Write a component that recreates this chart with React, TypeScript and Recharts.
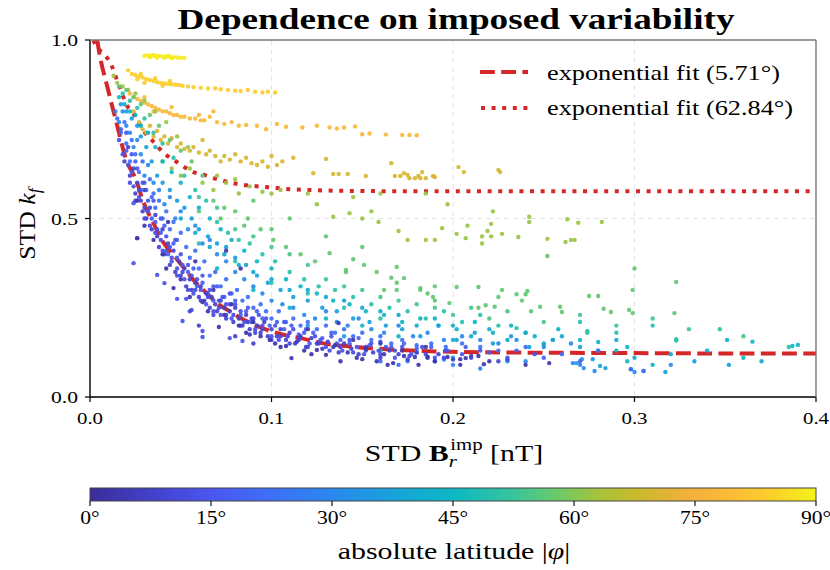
import React from 'react';
import { ComposedChart, Scatter, Line, XAxis, YAxis, CartesianGrid } from 'recharts';

const xTicks = [0, 0.1, 0.2, 0.3, 0.4];
const yTicks = [0, 0.5, 1.0];
const latTicks = [0, 15, 30, 45, 60, 75, 90];
const legendLabels = ['exponential fit (5.71°)', 'exponential fit (62.84°)'];

const colorStops: [number, string][] = [
  [0, '#3b2c9b'], [10, '#4547d9'], [15, '#4a56ef'], [22, '#3f6ef7'], [30, '#2a88ef'],
  [38, '#17a3da'], [45, '#0cb8c3'], [52, '#35c49f'], [58, '#6cc968'], [63, '#a6c33c'],
  [68, '#cbb92c'], [74, '#f0b03c'], [80, '#fdbd36'], [85, '#fad22a'], [90, '#f5f31a'],
];

// fitted curves [x, y]
const dashedFit: number[][] = [
  [0.004, 1.0], [0.0046, 0.98], [0.01, 0.86], [0.015, 0.76], [0.0195, 0.672], [0.026, 0.6],
  [0.029, 0.552], [0.035, 0.487], [0.04, 0.436], [0.046, 0.398], [0.052, 0.36], [0.057, 0.328],
  [0.064, 0.292], [0.07, 0.263], [0.077, 0.24], [0.083, 0.221], [0.0975, 0.188], [0.106, 0.175],
  [0.116, 0.165], [0.128, 0.151], [0.147, 0.14], [0.169, 0.132], [0.206, 0.126], [0.25, 0.124],
  [0.3, 0.123], [0.35, 0.122], [0.4, 0.122],
];
const dottedFit: number[][] = [
  [0.002, 1.0], [0.003, 0.986], [0.0083, 0.958], [0.012, 0.927], [0.0138, 0.902], [0.016, 0.874],
  [0.0202, 0.818], [0.0237, 0.796], [0.027, 0.767], [0.03, 0.742], [0.034, 0.72], [0.038, 0.697],
  [0.042, 0.678], [0.047, 0.661], [0.052, 0.644], [0.057, 0.63], [0.063, 0.622], [0.068, 0.613],
  [0.074, 0.605], [0.079, 0.599], [0.085, 0.594], [0.097, 0.588], [0.108, 0.583], [0.12, 0.58],
  [0.149, 0.577], [0.2, 0.576], [0.3, 0.576], [0.4, 0.576],
];

// scatter points by absolute latitude band [x, y]
const band89: number[][] = [
  [0.03, 0.955], [0.032, 0.957], [0.034, 0.956], [0.036, 0.955], [0.038, 0.955], [0.04, 0.954],
  [0.042, 0.953], [0.044, 0.953], [0.046, 0.952], [0.048, 0.951], [0.05, 0.95], [0.052, 0.95],
  [0.033, 0.952], [0.037, 0.951], [0.041, 0.95], [0.045, 0.949], [0.035, 0.958], [0.043, 0.956],
];
const band84: number[][] = [
  [0.021, 0.915], [0.023, 0.905], [0.025, 0.902], [0.027, 0.898], [0.029, 0.895], [0.031, 0.89],
  [0.033, 0.888], [0.035, 0.885], [0.037, 0.882], [0.039, 0.88], [0.041, 0.878], [0.043, 0.877],
  [0.045, 0.876], [0.047, 0.875], [0.049, 0.874], [0.051, 0.872], [0.054, 0.87], [0.057, 0.868],
  [0.061, 0.866], [0.065, 0.864], [0.069, 0.865], [0.072, 0.862], [0.076, 0.86], [0.08, 0.858],
  [0.083, 0.857], [0.087, 0.86], [0.091, 0.855], [0.095, 0.853], [0.098, 0.855], [0.102, 0.853],
  [0.028, 0.905], [0.036, 0.893], [0.044, 0.885], [0.03, 0.88], [0.04, 0.872], [0.026, 0.89],
];
const band78: number[][] = [
  [0.022, 0.85], [0.024, 0.84], [0.026, 0.835], [0.028, 0.83], [0.03, 0.825], [0.032, 0.82],
  [0.034, 0.815], [0.036, 0.81], [0.038, 0.805], [0.04, 0.8], [0.042, 0.8], [0.044, 0.795],
  [0.046, 0.79], [0.048, 0.79], [0.05, 0.785], [0.052, 0.785], [0.055, 0.78], [0.058, 0.78],
  [0.061, 0.775], [0.063, 0.775], [0.066, 0.785], [0.07, 0.77], [0.074, 0.765], [0.078, 0.77],
  [0.082, 0.76], [0.086, 0.762], [0.092, 0.76], [0.097, 0.75], [0.103, 0.765], [0.108, 0.757],
  [0.117, 0.755], [0.125, 0.76], [0.132, 0.755], [0.136, 0.752], [0.14, 0.755], [0.146, 0.758],
  [0.15, 0.736], [0.154, 0.738], [0.163, 0.735], [0.172, 0.734], [0.176, 0.734], [0.18, 0.733],
  [0.03, 0.84], [0.045, 0.812], [0.06, 0.79], [0.035, 0.8], [0.068, 0.8],
];
const band70: number[][] = [
  [0.024, 0.8], [0.027, 0.77], [0.029, 0.75], [0.031, 0.74], [0.033, 0.76], [0.035, 0.73],
  [0.037, 0.745], [0.039, 0.72], [0.041, 0.73], [0.043, 0.71], [0.045, 0.725], [0.048, 0.7],
  [0.05, 0.71], [0.052, 0.695], [0.055, 0.69], [0.057, 0.7], [0.06, 0.685], [0.062, 0.72],
  [0.064, 0.68], [0.066, 0.69], [0.069, 0.675], [0.072, 0.66], [0.074, 0.675], [0.077, 0.665],
  [0.08, 0.68], [0.083, 0.66], [0.086, 0.67], [0.089, 0.655], [0.092, 0.65], [0.095, 0.66],
  [0.098, 0.645], [0.1, 0.675], [0.103, 0.65], [0.106, 0.66], [0.112, 0.67], [0.123, 0.627],
  [0.13, 0.667], [0.134, 0.625], [0.137, 0.625], [0.142, 0.625], [0.152, 0.619], [0.166, 0.655],
  [0.168, 0.619], [0.171, 0.619], [0.173, 0.627], [0.175, 0.622], [0.176, 0.613], [0.179, 0.613],
  [0.181, 0.619], [0.182, 0.613], [0.183, 0.63], [0.185, 0.613], [0.189, 0.619], [0.19, 0.616],
  [0.203, 0.644], [0.206, 0.63], [0.225, 0.636], [0.226, 0.63],
];
const band62: number[][] = [
  [0.013, 0.9], [0.015, 0.88], [0.018, 0.87], [0.021, 0.86], [0.025, 0.85], [0.03, 0.83],
  [0.036, 0.8], [0.042, 0.77], [0.048, 0.73], [0.054, 0.7], [0.04, 0.66], [0.045, 0.64],
  [0.05, 0.62], [0.055, 0.64], [0.062, 0.6], [0.068, 0.58], [0.075, 0.6], [0.082, 0.57],
  [0.088, 0.59], [0.095, 0.575], [0.1, 0.57], [0.105, 0.58], [0.07, 0.62], [0.08, 0.61],
  [0.134, 0.505], [0.143, 0.515], [0.15, 0.5], [0.159, 0.49], [0.17, 0.465], [0.175, 0.44],
  [0.185, 0.44], [0.19, 0.44], [0.194, 0.473], [0.197, 0.54], [0.202, 0.457], [0.207, 0.445],
  [0.208, 0.48], [0.216, 0.45], [0.221, 0.45], [0.216, 0.43], [0.219, 0.465], [0.221, 0.485],
  [0.222, 0.52], [0.227, 0.457], [0.236, 0.448], [0.242, 0.505], [0.242, 0.49], [0.252, 0.443],
  [0.262, 0.434], [0.263, 0.498], [0.265, 0.44], [0.269, 0.488], [0.282, 0.49], [0.267, 0.44],
  [0.12, 0.57], [0.145, 0.56], [0.16, 0.57], [0.185, 0.57], [0.155, 0.52], [0.125, 0.54],
];
const band57: number[][] = [
  [0.016, 0.87], [0.02, 0.86], [0.024, 0.84], [0.028, 0.82], [0.033, 0.79], [0.038, 0.76],
  [0.044, 0.72], [0.05, 0.69], [0.056, 0.66], [0.062, 0.62], [0.068, 0.55], [0.074, 0.53],
  [0.08, 0.52], [0.087, 0.5], [0.094, 0.47], [0.101, 0.44], [0.108, 0.42], [0.116, 0.4],
  [0.124, 0.38], [0.132, 0.403], [0.141, 0.35], [0.141, 0.356], [0.145, 0.386], [0.151, 0.37],
  [0.158, 0.35], [0.162, 0.3], [0.166, 0.334], [0.169, 0.364], [0.169, 0.32], [0.169, 0.3],
  [0.173, 0.333], [0.182, 0.305], [0.182, 0.3], [0.186, 0.29], [0.189, 0.28], [0.19, 0.31],
  [0.19, 0.27], [0.198, 0.263], [0.202, 0.308], [0.214, 0.308], [0.214, 0.25], [0.218, 0.257],
  [0.223, 0.253], [0.227, 0.3], [0.225, 0.28], [0.235, 0.288], [0.24, 0.288], [0.241, 0.297],
  [0.238, 0.27], [0.243, 0.24], [0.248, 0.253], [0.252, 0.395], [0.259, 0.253], [0.26, 0.238],
  [0.275, 0.283], [0.28, 0.283], [0.283, 0.247], [0.287, 0.238], [0.297, 0.244], [0.299, 0.235],
  [0.299, 0.3], [0.3, 0.36], [0.322, 0.235], [0.323, 0.322], [0.09, 0.55], [0.11, 0.5],
  [0.13, 0.45], [0.15, 0.42], [0.072, 0.5], [0.085, 0.48], [0.06, 0.52], [0.1, 0.47],
];
const band54: number[][] = [
  [0.06, 0.56], [0.07, 0.53], [0.08, 0.47], [0.09, 0.45], [0.1, 0.42], [0.11, 0.4],
  [0.12, 0.37], [0.13, 0.33], [0.14, 0.31], [0.15, 0.3], [0.16, 0.28], [0.17, 0.27],
  [0.18, 0.26], [0.19, 0.25], [0.2, 0.23], [0.21, 0.25], [0.22, 0.22], [0.23, 0.24],
  [0.25, 0.21], [0.27, 0.23], [0.29, 0.2], [0.31, 0.22], [0.33, 0.19], [0.36, 0.17],
];
const band50: number[][] = [
  [0.018, 0.85], [0.022, 0.83], [0.026, 0.81], [0.03, 0.78], [0.035, 0.74], [0.04, 0.71],
  [0.046, 0.67], [0.052, 0.62], [0.058, 0.58], [0.064, 0.55], [0.07, 0.49], [0.076, 0.46],
  [0.082, 0.44], [0.088, 0.43], [0.095, 0.4], [0.102, 0.38], [0.11, 0.35], [0.118, 0.33],
  [0.126, 0.31], [0.135, 0.3], [0.145, 0.28], [0.155, 0.26], [0.165, 0.25], [0.175, 0.24],
  [0.185, 0.22], [0.195, 0.24], [0.205, 0.21], [0.215, 0.23], [0.225, 0.2], [0.235, 0.193],
  [0.24, 0.18], [0.255, 0.16], [0.27, 0.21], [0.274, 0.18], [0.274, 0.185], [0.29, 0.18],
  [0.31, 0.2], [0.323, 0.162], [0.323, 0.158], [0.347, 0.19], [0.385, 0.14], [0.06, 0.43],
  [0.08, 0.38], [0.1, 0.32], [0.12, 0.29], [0.14, 0.25], [0.16, 0.22], [0.25, 0.147],
];
const band44: number[][] = [
  [0.016, 0.84], [0.019, 0.82], [0.022, 0.8], [0.025, 0.79], [0.028, 0.76], [0.032, 0.74],
  [0.036, 0.7], [0.04, 0.66], [0.045, 0.63], [0.05, 0.6], [0.055, 0.56], [0.06, 0.53],
  [0.066, 0.5], [0.072, 0.47], [0.078, 0.44], [0.085, 0.41], [0.092, 0.38], [0.1, 0.36],
  [0.108, 0.33], [0.116, 0.31], [0.125, 0.29], [0.134, 0.27], [0.143, 0.26], [0.152, 0.24],
  [0.162, 0.23], [0.172, 0.21], [0.182, 0.22], [0.192, 0.2], [0.202, 0.19], [0.212, 0.21],
  [0.222, 0.18], [0.232, 0.2], [0.245, 0.17], [0.258, 0.19], [0.27, 0.16], [0.28, 0.154],
  [0.296, 0.14], [0.296, 0.1], [0.31, 0.09], [0.351, 0.16], [0.36, 0.11], [0.365, 0.155],
  [0.387, 0.143], [0.39, 0.146], [0.13, 0.22], [0.15, 0.2], [0.17, 0.17], [0.11, 0.25],
  [0.09, 0.3], [0.07, 0.36], [0.29, 0.13], [0.2, 0.16],
];
const band40: number[][] = [
  [0.05, 0.5], [0.058, 0.46], [0.066, 0.42], [0.074, 0.4], [0.082, 0.37], [0.09, 0.35],
  [0.1, 0.33], [0.11, 0.3], [0.12, 0.3], [0.13, 0.28], [0.14, 0.27], [0.15, 0.25],
  [0.16, 0.24], [0.17, 0.23], [0.18, 0.2], [0.19, 0.22], [0.2, 0.2], [0.21, 0.17],
  [0.22, 0.19], [0.23, 0.16], [0.24, 0.18], [0.25, 0.15], [0.26, 0.17], [0.27, 0.14],
  [0.28, 0.13], [0.29, 0.16], [0.3, 0.11], [0.32, 0.12], [0.34, 0.13], [0.37, 0.1],
];
const band37: number[][] = [
  [0.017, 0.82], [0.02, 0.8], [0.023, 0.78], [0.026, 0.76], [0.028, 0.73], [0.031, 0.7],
  [0.034, 0.66], [0.037, 0.62], [0.04, 0.6], [0.044, 0.58], [0.048, 0.55], [0.052, 0.53],
  [0.056, 0.5], [0.06, 0.47], [0.065, 0.45], [0.07, 0.43], [0.075, 0.42], [0.08, 0.39],
  [0.086, 0.37], [0.092, 0.34], [0.098, 0.32], [0.105, 0.3], [0.112, 0.28], [0.12, 0.27],
  [0.128, 0.25], [0.136, 0.24], [0.145, 0.22], [0.154, 0.21], [0.163, 0.2], [0.172, 0.19],
  [0.182, 0.17], [0.192, 0.2], [0.202, 0.16], [0.212, 0.18], [0.222, 0.15], [0.232, 0.17],
  [0.242, 0.14], [0.255, 0.16], [0.268, 0.095], [0.271, 0.106], [0.277, 0.106], [0.281, 0.087],
  [0.284, 0.081], [0.298, 0.078], [0.305, 0.073], [0.317, 0.07], [0.333, 0.1], [0.352, 0.09],
  [0.18, 0.125], [0.16, 0.13], [0.2, 0.11], [0.23, 0.1], [0.14, 0.17], [0.12, 0.2],
];
const band30: number[][] = [
  [0.014, 0.8], [0.016, 0.77], [0.018, 0.8], [0.02, 0.76], [0.022, 0.74], [0.024, 0.7],
  [0.026, 0.72], [0.028, 0.68], [0.03, 0.62], [0.032, 0.65], [0.035, 0.6], [0.038, 0.58],
  [0.041, 0.54], [0.044, 0.56], [0.047, 0.5], [0.05, 0.52], [0.054, 0.47], [0.058, 0.48],
  [0.062, 0.43], [0.066, 0.44], [0.07, 0.4], [0.075, 0.38], [0.08, 0.35], [0.085, 0.33],
  [0.09, 0.31], [0.095, 0.29], [0.1, 0.27], [0.106, 0.26], [0.112, 0.25], [0.118, 0.23],
  [0.124, 0.22], [0.13, 0.24], [0.136, 0.21], [0.142, 0.2], [0.148, 0.22], [0.155, 0.19],
  [0.162, 0.18], [0.17, 0.2], [0.178, 0.17], [0.186, 0.18], [0.195, 0.16], [0.205, 0.17],
  [0.215, 0.16], [0.225, 0.15], [0.235, 0.16], [0.25, 0.14], [0.265, 0.15], [0.266, 0.095],
  [0.272, 0.081], [0.278, 0.073], [0.32, 0.09], [0.2, 0.09], [0.215, 0.08], [0.24, 0.1],
  [0.27, 0.09], [0.3, 0.07], [0.195, 0.105], [0.175, 0.1],
];
const band22: number[][] = [
  [0.015, 0.78], [0.017, 0.74], [0.019, 0.77], [0.02, 0.71], [0.022, 0.66], [0.023, 0.72],
  [0.025, 0.68], [0.027, 0.63], [0.029, 0.66], [0.031, 0.58], [0.033, 0.61], [0.035, 0.57],
  [0.036, 0.53], [0.038, 0.55], [0.04, 0.5], [0.042, 0.52], [0.044, 0.47], [0.046, 0.49],
  [0.048, 0.44], [0.05, 0.46], [0.053, 0.42], [0.055, 0.39], [0.058, 0.41], [0.06, 0.36],
  [0.063, 0.38], [0.066, 0.34], [0.069, 0.35], [0.072, 0.31], [0.075, 0.33], [0.078, 0.29],
  [0.081, 0.3], [0.084, 0.27], [0.087, 0.28], [0.09, 0.25], [0.094, 0.26], [0.097, 0.24],
  [0.1, 0.22], [0.104, 0.24], [0.108, 0.21], [0.112, 0.22], [0.116, 0.2], [0.12, 0.21],
  [0.125, 0.19], [0.13, 0.2], [0.135, 0.18], [0.14, 0.19], [0.145, 0.17], [0.15, 0.18],
  [0.155, 0.16], [0.16, 0.17], [0.166, 0.15], [0.172, 0.16], [0.18, 0.145], [0.188, 0.15],
  [0.196, 0.14], [0.205, 0.15], [0.215, 0.14], [0.225, 0.13], [0.24, 0.14], [0.26, 0.12],
  [0.28, 0.13], [0.19, 0.1], [0.17, 0.09], [0.16, 0.1], [0.298, 0.078], [0.305, 0.073],
];
const band18: number[][] = [
  [0.017, 0.75], [0.02, 0.69], [0.023, 0.63], [0.025, 0.66], [0.028, 0.58], [0.03, 0.6],
  [0.032, 0.52], [0.034, 0.56], [0.036, 0.49], [0.039, 0.46], [0.041, 0.48], [0.043, 0.4],
  [0.046, 0.43], [0.048, 0.39], [0.051, 0.37], [0.054, 0.35], [0.057, 0.36], [0.059, 0.31],
  [0.062, 0.32], [0.065, 0.29], [0.068, 0.31], [0.071, 0.27], [0.074, 0.28], [0.077, 0.26],
  [0.08, 0.27], [0.083, 0.23], [0.086, 0.24], [0.089, 0.21], [0.092, 0.24], [0.095, 0.22],
  [0.099, 0.2], [0.103, 0.21], [0.107, 0.19], [0.111, 0.2], [0.115, 0.175], [0.119, 0.19],
  [0.123, 0.18], [0.128, 0.165], [0.133, 0.18], [0.138, 0.16], [0.143, 0.15], [0.148, 0.165],
  [0.154, 0.145], [0.16, 0.155], [0.166, 0.14], [0.173, 0.15], [0.18, 0.135], [0.188, 0.14],
  [0.197, 0.13], [0.207, 0.14], [0.22, 0.125], [0.235, 0.13], [0.25, 0.11], [0.27, 0.1],
];
const band14: number[][] = [
  [0.016, 0.72], [0.018, 0.68], [0.02, 0.74], [0.021, 0.65], [0.023, 0.68], [0.024, 0.59],
  [0.026, 0.64], [0.027, 0.56], [0.029, 0.6], [0.03, 0.5], [0.032, 0.55], [0.034, 0.5],
  [0.035, 0.55], [0.037, 0.47], [0.039, 0.5], [0.04, 0.41], [0.042, 0.45], [0.044, 0.42],
  [0.045, 0.38], [0.047, 0.44], [0.048, 0.36], [0.05, 0.4], [0.052, 0.33], [0.054, 0.37],
  [0.056, 0.34], [0.057, 0.29], [0.059, 0.33], [0.061, 0.3], [0.062, 0.34], [0.064, 0.26],
  [0.066, 0.3], [0.068, 0.27], [0.07, 0.31], [0.072, 0.23], [0.073, 0.28], [0.075, 0.26],
  [0.077, 0.29], [0.078, 0.22], [0.08, 0.26], [0.083, 0.24], [0.085, 0.21], [0.087, 0.25],
  [0.089, 0.22], [0.091, 0.19], [0.093, 0.23], [0.095, 0.2], [0.097, 0.22], [0.1, 0.17],
  [0.102, 0.2], [0.104, 0.16], [0.107, 0.21], [0.109, 0.17], [0.112, 0.19], [0.115, 0.16],
  [0.118, 0.18], [0.121, 0.15], [0.124, 0.17], [0.127, 0.16], [0.13, 0.14], [0.133, 0.17],
  [0.136, 0.15], [0.139, 0.13], [0.143, 0.16], [0.147, 0.14], [0.151, 0.12], [0.155, 0.15],
  [0.159, 0.13], [0.163, 0.14], [0.168, 0.11], [0.172, 0.14], [0.177, 0.12], [0.183, 0.14],
  [0.19, 0.11], [0.196, 0.13], [0.205, 0.12], [0.215, 0.13], [0.23, 0.11], [0.245, 0.12],
  [0.024, 0.375], [0.026, 0.445], [0.024, 0.543], [0.051, 0.213], [0.062, 0.185], [0.062, 0.168],
  [0.077, 0.165], [0.084, 0.157], [0.068, 0.24], [0.056, 0.244], [0.037, 0.342], [0.041, 0.319],
  [0.048, 0.275], [0.053, 0.275],
];
const band11: number[][] = [
  [0.022, 0.6], [0.025, 0.55], [0.027, 0.58], [0.03, 0.53], [0.033, 0.48], [0.036, 0.46],
  [0.039, 0.44], [0.042, 0.41], [0.045, 0.39], [0.048, 0.34], [0.051, 0.35], [0.054, 0.3],
  [0.058, 0.3], [0.061, 0.27], [0.065, 0.28], [0.068, 0.23], [0.071, 0.25], [0.075, 0.23],
  [0.079, 0.23], [0.083, 0.2], [0.087, 0.21], [0.091, 0.18], [0.095, 0.19], [0.1, 0.16],
  [0.105, 0.17], [0.11, 0.15], [0.115, 0.165], [0.12, 0.14], [0.126, 0.15], [0.132, 0.13],
  [0.138, 0.14], [0.145, 0.125], [0.152, 0.13], [0.16, 0.12], [0.168, 0.13], [0.176, 0.115],
  [0.185, 0.12], [0.195, 0.11], [0.21, 0.11], [0.23, 0.105],
];
const band8: number[][] = [
  [0.019, 0.66], [0.021, 0.7], [0.022, 0.62], [0.024, 0.64], [0.025, 0.57], [0.026, 0.6],
  [0.028, 0.55], [0.029, 0.52], [0.03, 0.58], [0.031, 0.5], [0.033, 0.53], [0.034, 0.47],
  [0.036, 0.51], [0.037, 0.45], [0.038, 0.42], [0.04, 0.47], [0.041, 0.4], [0.043, 0.43],
  [0.044, 0.37], [0.046, 0.41], [0.047, 0.35], [0.049, 0.38], [0.05, 0.34], [0.052, 0.36],
  [0.053, 0.31], [0.055, 0.33], [0.056, 0.3], [0.058, 0.32], [0.06, 0.28], [0.061, 0.31],
  [0.063, 0.27], [0.064, 0.29], [0.066, 0.25], [0.067, 0.28], [0.069, 0.26], [0.07, 0.24],
  [0.072, 0.27], [0.074, 0.25], [0.075, 0.22], [0.077, 0.24], [0.079, 0.21], [0.08, 0.25],
  [0.082, 0.22], [0.084, 0.2], [0.086, 0.23], [0.088, 0.19], [0.09, 0.22], [0.092, 0.2],
  [0.094, 0.18], [0.096, 0.21], [0.098, 0.17], [0.1, 0.19], [0.103, 0.17], [0.105, 0.19],
  [0.108, 0.16], [0.11, 0.18], [0.113, 0.15], [0.116, 0.17], [0.119, 0.14], [0.122, 0.165],
  [0.125, 0.15], [0.128, 0.135], [0.131, 0.155], [0.134, 0.14], [0.137, 0.125], [0.14, 0.15],
  [0.144, 0.135], [0.148, 0.12], [0.152, 0.14], [0.156, 0.125], [0.16, 0.11], [0.165, 0.13],
  [0.17, 0.12], [0.175, 0.105], [0.18, 0.125], [0.186, 0.11], [0.192, 0.12], [0.2, 0.105],
  [0.21, 0.115], [0.225, 0.1], [0.06, 0.2], [0.055, 0.24], [0.09, 0.15], [0.08, 0.17],
];
const band3: number[][] = [
  [0.035, 0.44], [0.042, 0.36], [0.046, 0.305], [0.05, 0.33], [0.055, 0.28], [0.058, 0.38],
  [0.062, 0.266], [0.065, 0.24], [0.068, 0.3], [0.071, 0.196], [0.074, 0.23], [0.078, 0.26],
  [0.082, 0.2], [0.086, 0.18], [0.088, 0.175], [0.09, 0.21], [0.094, 0.17], [0.099, 0.16],
  [0.102, 0.15], [0.105, 0.14], [0.108, 0.143], [0.111, 0.109], [0.114, 0.155], [0.118, 0.13],
  [0.122, 0.12], [0.125, 0.132], [0.13, 0.118], [0.135, 0.145], [0.137, 0.207], [0.138, 0.1],
  [0.142, 0.125], [0.147, 0.11], [0.15, 0.106], [0.152, 0.135], [0.158, 0.1], [0.162, 0.12],
  [0.164, 0.09], [0.167, 0.095], [0.173, 0.115], [0.179, 0.112], [0.181, 0.09], [0.186, 0.112],
  [0.19, 0.1], [0.197, 0.112], [0.204, 0.106], [0.204, 0.09], [0.207, 0.109], [0.214, 0.115],
  [0.217, 0.092], [0.22, 0.1], [0.24, 0.09], [0.253, 0.095], [0.12, 0.19], [0.145, 0.16],
  [0.16, 0.15], [0.172, 0.13], [0.185, 0.14], [0.026, 0.55], [0.03, 0.48], [0.04, 0.4],
  [0.026, 0.445], [0.043, 0.49], [0.075, 0.41], [0.083, 0.36],
];

const bandLats = [89, 84, 78, 70, 62, 57, 54, 50, 44, 40, 37, 30, 22, 18, 14, 11, 8, 3];
const bandPoints = [band89, band84, band78, band70, band62, band57, band54, band50, band44, band40,
  band37, band30, band22, band18, band14, band11, band8, band3];

const hexToRgb = (h: string) => [1, 3, 5].map((i) => parseInt(h.slice(i, i + 2), 16));
function latColor(lat: number): string {
  for (let i = 0; i < colorStops.length - 1; i++) {
    const [l0, c0] = colorStops[i];
    const [l1, c1] = colorStops[i + 1];
    if (lat >= l0 && lat <= l1) {
      const t = (lat - l0) / (l1 - l0);
      const a = hexToRgb(c0);
      const b = hexToRgb(c1);
      const m = a.map((v, k) => Math.round(v + (b[k] - v) * t));
      return `rgb(${m[0]},${m[1]},${m[2]})`;
    }
  }
  return colorStops[colorStops.length - 1][1];
}

const toObj = (arr: number[][]) => arr.map(([x, y]) => ({ x, y }));

const SERIF = 'Liberation Serif, Times New Roman, serif';
const RED = '#d62728';

// plot box geometry (layout, not data)
const PL = 90, PR = 816, PT = 40, PB = 397;

const XTick = (props: any) => {
  const { x, y, payload } = props;
  return (
    <text x={x} y={y + 20} textAnchor="middle" fontFamily={SERIF} fontSize={17} fill="#000"
      textLength={26} lengthAdjust="spacingAndGlyphs">
      {Number(payload.value).toFixed(1)}
    </text>
  );
};
const YTick = (props: any) => {
  const { x, y, payload } = props;
  return (
    <text x={x - 5} y={y + 6} textAnchor="end" fontFamily={SERIF} fontSize={17} fill="#000"
      textLength={27} lengthAdjust="spacingAndGlyphs">
      {Number(payload.value).toFixed(1)}
    </text>
  );
};

export default function App() {
  const cbW = PR - PL;
  return (
    <div style={{ position: 'absolute', left: 0, top: 0, width: 830, height: 570, background: '#fff' }}>
      <ComposedChart width={830} height={570} margin={{ top: PT, right: 830 - PR, bottom: 143, left: 0 }}>
        <CartesianGrid stroke="#e4e4e4" strokeDasharray="5 4" strokeWidth={1} />
        <XAxis type="number" dataKey="x" domain={[0, 0.4]} ticks={xTicks} height={30} tickSize={5}
          interval={0} allowDataOverflow axisLine={{ stroke: '#000', strokeWidth: 1.4 }}
          tickLine={{ stroke: '#000', strokeWidth: 1.2 }} tick={XTick} />
        <YAxis type="number" dataKey="y" domain={[0, 1]} ticks={yTicks} width={PL} tickSize={5}
          interval={0} allowDataOverflow axisLine={{ stroke: '#000', strokeWidth: 1.4 }}
          tickLine={{ stroke: '#000', strokeWidth: 1.2 }} tick={YTick} />
        {bandPoints.map((pts, i) => {
          const c = latColor(bandLats[i]);
          return (
            <Scatter key={'b' + i} data={toObj(pts)} fill={c} isAnimationActive={false}
              shape={(p: any) => <circle cx={p.cx} cy={p.cy} r={2.2} fill={c} fillOpacity={0.92} />} />
          );
        })}
        <Line data={toObj(dottedFit)} dataKey="y" type="monotone" stroke={RED} strokeWidth={4}
          strokeDasharray="4 6.6" dot={false} isAnimationActive={false} />
        <Line data={toObj(dashedFit)} dataKey="y" type="monotone" stroke={RED} strokeWidth={4}
          strokeDasharray="14.8 6.4" dot={false} isAnimationActive={false} />
      </ComposedChart>
      <svg width={830} height={570} style={{ position: 'absolute', left: 0, top: 0, pointerEvents: 'none' }}>
        <defs>
          <linearGradient id="cbarGrad" x1="0" x2="1" y1="0" y2="0">
            {colorStops.map(([l, c]) => (
              <stop key={l} offset={`${(l / 90) * 100}%`} stopColor={c} />
            ))}
          </linearGradient>
        </defs>
        <line x1={PL} x2={PR} y1={PT} y2={PT} stroke="#7a7a7a" strokeWidth={1.4} />
        <line x1={PR} x2={PR} y1={PT} y2={PB} stroke="#7a7a7a" strokeWidth={1.4} />
        <text x={456} y={29} textAnchor="middle" fontFamily={SERIF} fontWeight="bold" fontSize={30}
          textLength={557} lengthAdjust="spacingAndGlyphs" fill="#000">
          Dependence on imposed variability
        </text>
        <line x1={480} x2={528} y1={72} y2={72} stroke={RED} strokeWidth={4} strokeDasharray="14.8 6.4" />
        <line x1={481} x2={528} y1={108} y2={108} stroke={RED} strokeWidth={4} strokeDasharray="4 6.6" />
        <text x={547} y={80} fontFamily={SERIF} fontSize={21} textLength={233} lengthAdjust="spacingAndGlyphs">
          {legendLabels[0]}
        </text>
        <text x={547} y={115} fontFamily={SERIF} fontSize={21} textLength={246} lengthAdjust="spacingAndGlyphs">
          {legendLabels[1]}
        </text>
        <g transform="translate(35,224) rotate(-90) scale(1.12,1)">
          <text x={0} y={0} textAnchor="middle" fontFamily={SERIF} fontSize={23}>
            STD <tspan fontStyle="italic">k</tspan>
            <tspan fontStyle="italic" fontSize={16} dy={5}>f</tspan>
          </text>
        </g>
        <g transform="translate(454,461) scale(1.3,1)">
          <text x={0} y={0} textAnchor="middle" fontFamily={SERIF} fontSize={23}>
            STD <tspan fontWeight="bold">B</tspan>
            <tspan fontStyle="italic" fontSize={16} dy={6}>r</tspan>
            <tspan fontSize={16} dx={-5} dy={-17}>imp</tspan>
            <tspan dy={11}> [nT]</tspan>
          </text>
        </g>
        <rect x={PL} y={488} width={cbW} height={13} fill="url(#cbarGrad)" stroke="#444" strokeWidth={1} />
        {latTicks.map((l) => {
          const x = PL + (l / 90) * cbW;
          return (
            <g key={l}>
              <line x1={x} x2={x} y1={501} y2={506} stroke="#000" strokeWidth={1.1} />
              <g transform={`translate(${x},524) scale(1.2,1)`}>
                <text x={0} y={0} textAnchor="middle" fontFamily={SERIF} fontSize={18}>{`${l}°`}</text>
              </g>
            </g>
          );
        })}
        <g transform="translate(454,559) scale(1.3,1)">
          <text x={0} y={0} textAnchor="middle" fontFamily={SERIF} fontSize={23}>
            absolute latitude |<tspan fontStyle="italic">φ</tspan>|
          </text>
        </g>
      </svg>
    </div>
  );
}
